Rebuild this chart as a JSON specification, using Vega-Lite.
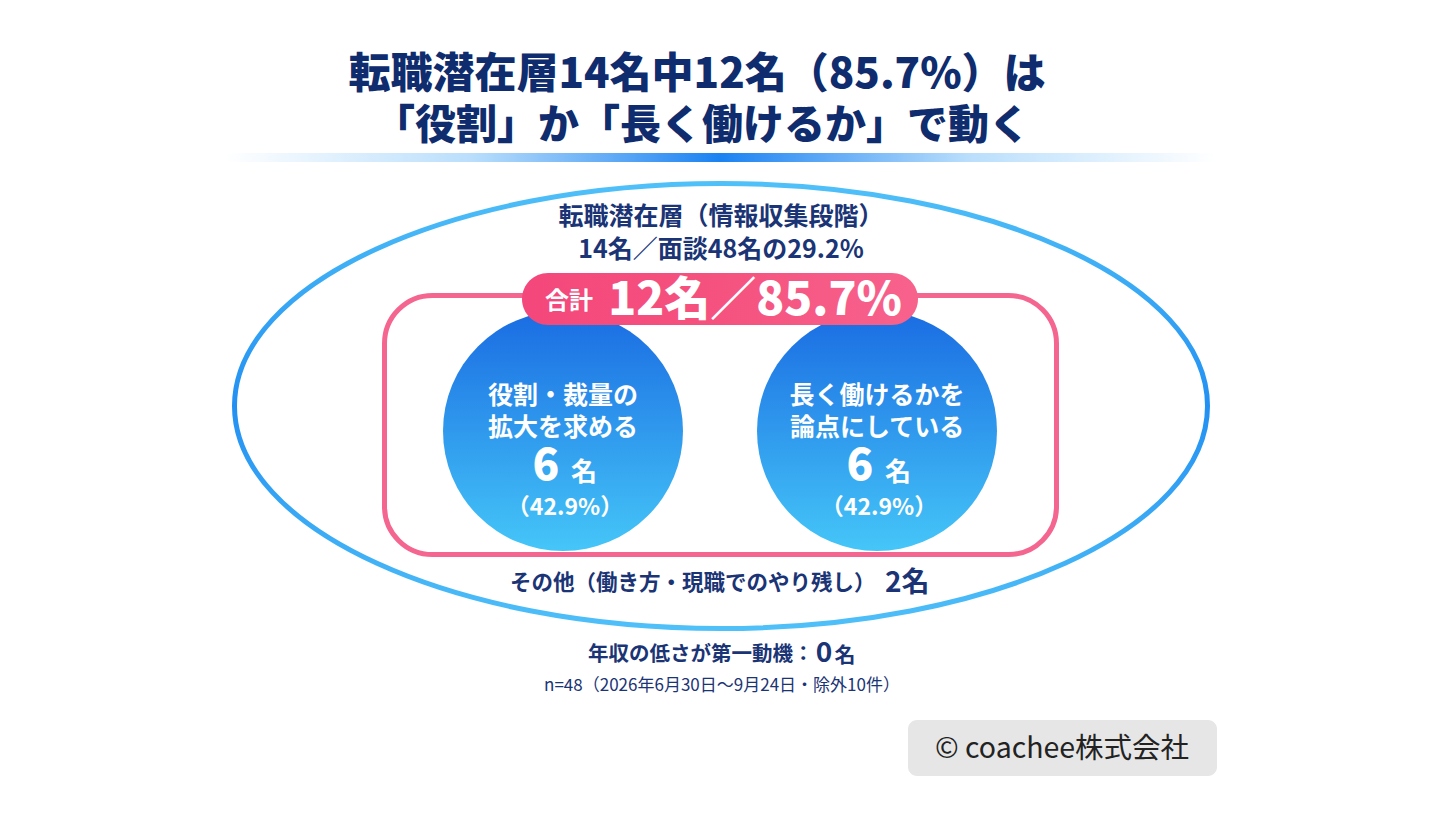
{
  "$schema": "https://vega.github.io/schema/vega-lite/v6.json",
  "width": 1440,
  "height": 820,
  "autosize": {"type": "fit", "contains": "padding"},
  "padding": 0,
  "background": "#ffffff",
  "config": {
    "view": {"stroke": null},
    "text": {"font": "Noto Sans CJK JP"}
  },
  "datasets": {
    "headline": [
      {"line": 1, "text": "転職潜在層14名中12名（85.7%）は"},
      {"line": 2, "text": "「役割」か「長く働けるか」で動く"}
    ],
    "segment": [
      {"name": "転職潜在層（情報収集段階）", "count": 14, "interviews": 48, "pct": 29.2, "summary": "14名／面談48名の29.2%"}
    ],
    "total": [
      {"label": "合計", "count": 12, "pct": 85.7, "text": "12名／85.7%"}
    ],
    "reasons": [
      {"reason": "役割・裁量の拡大を求める", "lines": ["役割・裁量の", "拡大を求める"], "count": 6, "pct": "（42.9%）"},
      {"reason": "長く働けるかを論点にしている", "lines": ["長く働けるかを", "論点にしている"], "count": 6, "pct": "（42.9%）"}
    ],
    "other": [
      {"label": "その他（働き方・現職でのやり残し）", "count": 2, "countText": "2名"}
    ],
    "salary": [
      {"label": "年収の低さが第一動機：", "count": 0}
    ],
    "note": [
      {"text": "n=48（2026年6月30日〜9月24日・除外10件）"}
    ],
    "credit": [
      {"text": "© coachee株式会社"}
    ]
  },
  "layer": [
    {
      "data": {"name": "headline"},
      "transform": [{"filter": "datum.line == 2"}],
      "mark": {"type": "rect", "fill": {"gradient": "linear", "x1": 0, "y1": 0, "x2": 1, "y2": 0, "stops": [{"offset": 0, "color": "#ffffff"}, {"offset": 0.25, "color": "#b9defc"}, {"offset": 0.5, "color": "#1b82f2"}, {"offset": 0.75, "color": "#b9defc"}, {"offset": 1, "color": "#ffffff"}]}},
      "encoding": {
        "x": {"datum": 225, "type": "quantitative", "scale": {"domain": [0, 1440], "nice": false}, "axis": null},
        "x2": {"datum": 1215},
        "y": {"datum": 153, "type": "quantitative", "scale": {"domain": [0, 820], "nice": false, "reverse": true}, "axis": null},
        "y2": {"datum": 162}
      }
    },
    {
      "data": {"name": "segment"},
      "mark": {"type": "point", "shape": "M -1 0 C -1 -0.2526 -0.5523 -0.4573 0 -0.4573 C 0.5523 -0.4573 1 -0.2526 1 0 C 1 0.2526 0.5523 0.4573 0 0.4573 C -0.5523 0.4573 -1 0.2526 -1 0 Z", "size": 946729, "filled": false, "opacity": 1, "strokeWidth": 5, "stroke": {"gradient": "linear", "x1": 0, "y1": 0, "x2": 0, "y2": 1, "stops": [{"offset": 0, "color": "#4fc0f8"}, {"offset": 0.5, "color": "#2290f2"}, {"offset": 1, "color": "#4fc0f8"}]}},
      "encoding": {
        "x": {"datum": 721, "type": "quantitative", "scale": {"domain": [0, 1440], "nice": false}, "axis": null},
        "y": {"datum": 406, "type": "quantitative", "scale": {"domain": [0, 820], "nice": false, "reverse": true}, "axis": null}
      }
    },
    {
      "data": {"name": "total"},
      "mark": {"type": "rect", "filled": false, "stroke": "#f4658f", "strokeWidth": 5, "cornerRadius": 48},
      "encoding": {
        "x": {"datum": 384.5, "type": "quantitative", "scale": {"domain": [0, 1440], "nice": false}, "axis": null},
        "x2": {"datum": 1056.5},
        "y": {"datum": 295.5, "type": "quantitative", "scale": {"domain": [0, 820], "nice": false, "reverse": true}, "axis": null},
        "y2": {"datum": 554.5}
      }
    },
    {
      "data": {"name": "reasons"},
      "transform": [{"filter": "datum.reason == '役割・裁量の拡大を求める'"}],
      "mark": {"type": "point", "shape": "circle", "size": 57600, "filled": true, "opacity": 1, "strokeWidth": 0, "fill": {"gradient": "linear", "x1": 0, "y1": 0, "x2": 0, "y2": 1, "stops": [{"offset": 0, "color": "#1a6ce2"}, {"offset": 1, "color": "#45c6f8"}]}},
      "encoding": {
        "x": {"datum": 563, "type": "quantitative", "scale": {"domain": [0, 1440], "nice": false}, "axis": null},
        "y": {"datum": 431, "type": "quantitative", "scale": {"domain": [0, 820], "nice": false, "reverse": true}, "axis": null}
      }
    },
    {
      "data": {"name": "reasons"},
      "transform": [{"filter": "datum.reason == '長く働けるかを論点にしている'"}],
      "mark": {"type": "point", "shape": "circle", "size": 57600, "filled": true, "opacity": 1, "strokeWidth": 0, "fill": {"gradient": "linear", "x1": 0, "y1": 0, "x2": 0, "y2": 1, "stops": [{"offset": 0, "color": "#1a6ce2"}, {"offset": 1, "color": "#45c6f8"}]}},
      "encoding": {
        "x": {"datum": 877, "type": "quantitative", "scale": {"domain": [0, 1440], "nice": false}, "axis": null},
        "y": {"datum": 431, "type": "quantitative", "scale": {"domain": [0, 820], "nice": false, "reverse": true}, "axis": null}
      }
    },
    {
      "data": {"name": "total"},
      "mark": {"type": "rect", "cornerRadius": 26, "fill": {"gradient": "linear", "x1": 0, "y1": 0, "x2": 1, "y2": 0, "stops": [{"offset": 0, "color": "#f4477b"}, {"offset": 0.5, "color": "#f5527f"}, {"offset": 1, "color": "#f7628c"}]}},
      "encoding": {
        "x": {"datum": 522, "type": "quantitative", "scale": {"domain": [0, 1440], "nice": false}, "axis": null},
        "x2": {"datum": 918},
        "y": {"datum": 273, "type": "quantitative", "scale": {"domain": [0, 820], "nice": false, "reverse": true}, "axis": null},
        "y2": {"datum": 325}
      }
    },
    {
      "data": {"name": "total"},
      "mark": {"type": "text", "fontSize": 24, "fontWeight": "bold", "color": "#ffffff", "align": "center", "baseline": "middle"},
      "encoding": {
        "x": {"datum": 569, "type": "quantitative", "scale": {"domain": [0, 1440], "nice": false}, "axis": null},
        "y": {"datum": 302, "type": "quantitative", "scale": {"domain": [0, 820], "nice": false, "reverse": true}, "axis": null},
        "text": {"field": "label"}
      }
    },
    {
      "data": {"name": "total"},
      "mark": {"type": "text", "fontSize": 46, "fontWeight": 900, "color": "#ffffff", "align": "center", "baseline": "middle"},
      "encoding": {
        "x": {"datum": 755, "type": "quantitative", "scale": {"domain": [0, 1440], "nice": false}, "axis": null},
        "y": {"datum": 301, "type": "quantitative", "scale": {"domain": [0, 820], "nice": false, "reverse": true}, "axis": null},
        "text": {"field": "text"}
      }
    },
    {
      "data": {"name": "headline"},
      "transform": [{"filter": "datum.line == 1"}],
      "mark": {"type": "text", "fontSize": 42, "fontWeight": 900, "color": "#0e2c6e", "align": "center", "baseline": "middle"},
      "encoding": {
        "x": {"datum": 697, "type": "quantitative", "scale": {"domain": [0, 1440], "nice": false}, "axis": null},
        "y": {"datum": 75, "type": "quantitative", "scale": {"domain": [0, 820], "nice": false, "reverse": true}, "axis": null},
        "text": {"field": "text"}
      }
    },
    {
      "data": {"name": "headline"},
      "transform": [{"filter": "datum.line == 2"}],
      "mark": {"type": "text", "fontSize": 41, "fontWeight": 900, "color": "#0e2c6e", "align": "center", "baseline": "middle"},
      "encoding": {
        "x": {"datum": 702, "type": "quantitative", "scale": {"domain": [0, 1440], "nice": false}, "axis": null},
        "y": {"datum": 127, "type": "quantitative", "scale": {"domain": [0, 820], "nice": false, "reverse": true}, "axis": null},
        "text": {"field": "text"}
      }
    },
    {
      "data": {"name": "segment"},
      "mark": {"type": "text", "fontSize": 25, "fontWeight": "bold", "color": "#1a3475", "align": "center", "baseline": "middle"},
      "encoding": {
        "x": {"datum": 721, "type": "quantitative", "scale": {"domain": [0, 1440], "nice": false}, "axis": null},
        "y": {"datum": 217, "type": "quantitative", "scale": {"domain": [0, 820], "nice": false, "reverse": true}, "axis": null},
        "text": {"field": "name"}
      }
    },
    {
      "data": {"name": "segment"},
      "mark": {"type": "text", "fontSize": 25, "fontWeight": "bold", "color": "#1a3475", "align": "center", "baseline": "middle"},
      "encoding": {
        "x": {"datum": 721, "type": "quantitative", "scale": {"domain": [0, 1440], "nice": false}, "axis": null},
        "y": {"datum": 250, "type": "quantitative", "scale": {"domain": [0, 820], "nice": false, "reverse": true}, "axis": null},
        "text": {"field": "summary"}
      }
    },
    {
      "data": {"name": "reasons"},
      "transform": [{"filter": "datum.reason == '役割・裁量の拡大を求める'"}],
      "mark": {"type": "text", "fontSize": 25, "fontWeight": "bold", "color": "#ffffff", "align": "center", "baseline": "middle", "lineHeight": 32},
      "encoding": {
        "x": {"datum": 563, "type": "quantitative", "scale": {"domain": [0, 1440], "nice": false}, "axis": null},
        "y": {"datum": 396, "type": "quantitative", "scale": {"domain": [0, 820], "nice": false, "reverse": true}, "axis": null},
        "text": {"field": "lines"}
      }
    },
    {
      "data": {"name": "reasons"},
      "transform": [{"filter": "datum.reason == '長く働けるかを論点にしている'"}],
      "mark": {"type": "text", "fontSize": 25, "fontWeight": "bold", "color": "#ffffff", "align": "center", "baseline": "middle", "lineHeight": 32},
      "encoding": {
        "x": {"datum": 877, "type": "quantitative", "scale": {"domain": [0, 1440], "nice": false}, "axis": null},
        "y": {"datum": 396, "type": "quantitative", "scale": {"domain": [0, 820], "nice": false, "reverse": true}, "axis": null},
        "text": {"field": "lines"}
      }
    },
    {
      "data": {"name": "reasons"},
      "transform": [{"filter": "datum.reason == '役割・裁量の拡大を求める'"}],
      "mark": {"type": "text", "fontSize": 44, "fontWeight": 900, "color": "#ffffff", "align": "center", "baseline": "middle"},
      "encoding": {
        "x": {"datum": 546, "type": "quantitative", "scale": {"domain": [0, 1440], "nice": false}, "axis": null},
        "y": {"datum": 467, "type": "quantitative", "scale": {"domain": [0, 820], "nice": false, "reverse": true}, "axis": null},
        "text": {"field": "count"}
      }
    },
    {
      "data": {"name": "reasons"},
      "transform": [{"filter": "datum.reason == '長く働けるかを論点にしている'"}],
      "mark": {"type": "text", "fontSize": 44, "fontWeight": 900, "color": "#ffffff", "align": "center", "baseline": "middle"},
      "encoding": {
        "x": {"datum": 860, "type": "quantitative", "scale": {"domain": [0, 1440], "nice": false}, "axis": null},
        "y": {"datum": 467, "type": "quantitative", "scale": {"domain": [0, 820], "nice": false, "reverse": true}, "axis": null},
        "text": {"field": "count"}
      }
    },
    {
      "data": {"name": "reasons"},
      "transform": [{"filter": "datum.reason == '役割・裁量の拡大を求める'"}],
      "mark": {"type": "text", "fontSize": 26, "fontWeight": "bold", "color": "#ffffff", "align": "center", "baseline": "middle"},
      "encoding": {
        "x": {"datum": 584, "type": "quantitative", "scale": {"domain": [0, 1440], "nice": false}, "axis": null},
        "y": {"datum": 473, "type": "quantitative", "scale": {"domain": [0, 820], "nice": false, "reverse": true}, "axis": null},
        "text": {"value": "名"}
      }
    },
    {
      "data": {"name": "reasons"},
      "transform": [{"filter": "datum.reason == '長く働けるかを論点にしている'"}],
      "mark": {"type": "text", "fontSize": 26, "fontWeight": "bold", "color": "#ffffff", "align": "center", "baseline": "middle"},
      "encoding": {
        "x": {"datum": 898, "type": "quantitative", "scale": {"domain": [0, 1440], "nice": false}, "axis": null},
        "y": {"datum": 473, "type": "quantitative", "scale": {"domain": [0, 820], "nice": false, "reverse": true}, "axis": null},
        "text": {"value": "名"}
      }
    },
    {
      "data": {"name": "reasons"},
      "transform": [{"filter": "datum.reason == '役割・裁量の拡大を求める'"}],
      "mark": {"type": "text", "fontSize": 23, "fontWeight": "bold", "color": "#ffffff", "align": "center", "baseline": "middle"},
      "encoding": {
        "x": {"datum": 565, "type": "quantitative", "scale": {"domain": [0, 1440], "nice": false}, "axis": null},
        "y": {"datum": 508, "type": "quantitative", "scale": {"domain": [0, 820], "nice": false, "reverse": true}, "axis": null},
        "text": {"field": "pct"}
      }
    },
    {
      "data": {"name": "reasons"},
      "transform": [{"filter": "datum.reason == '長く働けるかを論点にしている'"}],
      "mark": {"type": "text", "fontSize": 23, "fontWeight": "bold", "color": "#ffffff", "align": "center", "baseline": "middle"},
      "encoding": {
        "x": {"datum": 879, "type": "quantitative", "scale": {"domain": [0, 1440], "nice": false}, "axis": null},
        "y": {"datum": 508, "type": "quantitative", "scale": {"domain": [0, 820], "nice": false, "reverse": true}, "axis": null},
        "text": {"field": "pct"}
      }
    },
    {
      "data": {"name": "other"},
      "mark": {"type": "text", "fontSize": 21.5, "fontWeight": "bold", "color": "#1a3475", "align": "left", "baseline": "middle"},
      "encoding": {
        "x": {"datum": 510, "type": "quantitative", "scale": {"domain": [0, 1440], "nice": false}, "axis": null},
        "y": {"datum": 584, "type": "quantitative", "scale": {"domain": [0, 820], "nice": false, "reverse": true}, "axis": null},
        "text": {"field": "label"}
      }
    },
    {
      "data": {"name": "other"},
      "mark": {"type": "text", "fontSize": 28, "fontWeight": "bold", "color": "#1a3475", "align": "left", "baseline": "middle"},
      "encoding": {
        "x": {"datum": 885, "type": "quantitative", "scale": {"domain": [0, 1440], "nice": false}, "axis": null},
        "y": {"datum": 584, "type": "quantitative", "scale": {"domain": [0, 820], "nice": false, "reverse": true}, "axis": null},
        "text": {"field": "countText"}
      }
    },
    {
      "data": {"name": "salary"},
      "mark": {"type": "text", "fontSize": 20.5, "fontWeight": "bold", "color": "#1a3475", "align": "left", "baseline": "middle"},
      "encoding": {
        "x": {"datum": 588, "type": "quantitative", "scale": {"domain": [0, 1440], "nice": false}, "axis": null},
        "y": {"datum": 655, "type": "quantitative", "scale": {"domain": [0, 820], "nice": false, "reverse": true}, "axis": null},
        "text": {"field": "label"}
      }
    },
    {
      "data": {"name": "salary"},
      "mark": {"type": "text", "fontSize": 28, "fontWeight": "bold", "color": "#1a3475", "align": "center", "baseline": "middle"},
      "encoding": {
        "x": {"datum": 824, "type": "quantitative", "scale": {"domain": [0, 1440], "nice": false}, "axis": null},
        "y": {"datum": 654, "type": "quantitative", "scale": {"domain": [0, 820], "nice": false, "reverse": true}, "axis": null},
        "text": {"field": "count"}
      }
    },
    {
      "data": {"name": "salary"},
      "mark": {"type": "text", "fontSize": 21, "fontWeight": "bold", "color": "#1a3475", "align": "center", "baseline": "middle"},
      "encoding": {
        "x": {"datum": 845, "type": "quantitative", "scale": {"domain": [0, 1440], "nice": false}, "axis": null},
        "y": {"datum": 656, "type": "quantitative", "scale": {"domain": [0, 820], "nice": false, "reverse": true}, "axis": null},
        "text": {"value": "名"}
      }
    },
    {
      "data": {"name": "note"},
      "mark": {"type": "text", "fontSize": 17, "fontWeight": "normal", "color": "#1a3475", "align": "center", "baseline": "middle"},
      "encoding": {
        "x": {"datum": 722, "type": "quantitative", "scale": {"domain": [0, 1440], "nice": false}, "axis": null},
        "y": {"datum": 686, "type": "quantitative", "scale": {"domain": [0, 820], "nice": false, "reverse": true}, "axis": null},
        "text": {"field": "text"}
      }
    },
    {
      "data": {"name": "credit"},
      "mark": {"type": "rect", "cornerRadius": 9, "fill": "#e6e6e6"},
      "encoding": {
        "x": {"datum": 908, "type": "quantitative", "scale": {"domain": [0, 1440], "nice": false}, "axis": null},
        "x2": {"datum": 1217},
        "y": {"datum": 720, "type": "quantitative", "scale": {"domain": [0, 820], "nice": false, "reverse": true}, "axis": null},
        "y2": {"datum": 776}
      }
    },
    {
      "data": {"name": "credit"},
      "mark": {"type": "text", "fontSize": 28.5, "fontWeight": "normal", "color": "#222222", "align": "center", "baseline": "middle"},
      "encoding": {
        "x": {"datum": 1062, "type": "quantitative", "scale": {"domain": [0, 1440], "nice": false}, "axis": null},
        "y": {"datum": 749, "type": "quantitative", "scale": {"domain": [0, 820], "nice": false, "reverse": true}, "axis": null},
        "text": {"field": "text"}
      }
    }
  ]
}
